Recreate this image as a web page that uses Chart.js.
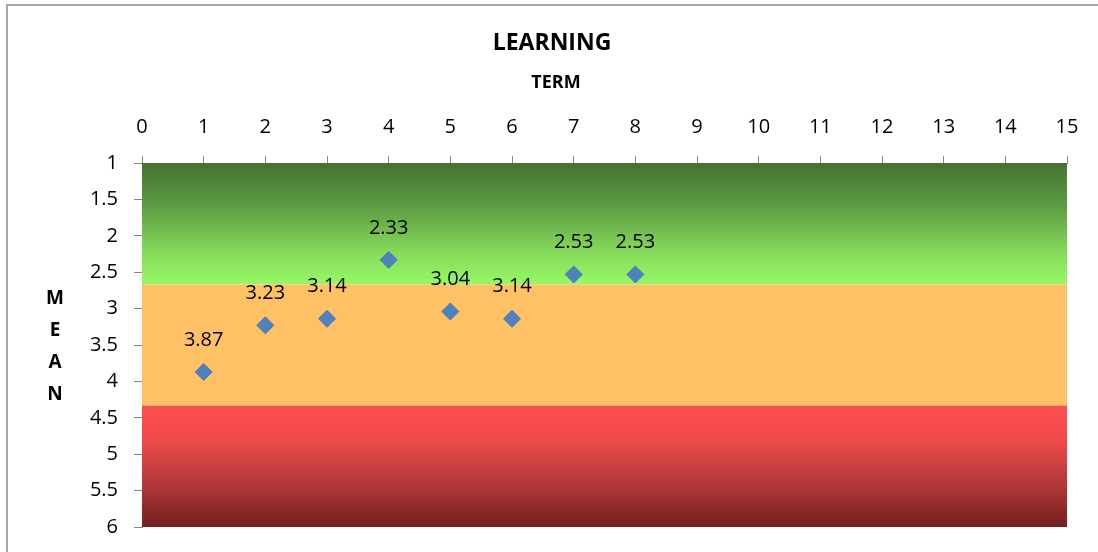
<!DOCTYPE html>
<html>
<head>
<meta charset="utf-8">
<script src="https://cdn.jsdelivr.net/npm/chart.js@4.4.0/dist/chart.umd.min.js"></script>
<style>
  html, body { margin: 0; padding: 0; background: #fff; }
  #wrap { position: relative; width: 1098px; height: 552px; overflow: hidden; }
  #frame { position: absolute; left: 6px; top: 4px; width: 1300px; height: 800px;
           border-top: 2px solid #a6a6a6; border-left: 2px solid #a6a6a6; }
  canvas { position: absolute; left: 0; top: 0; }
</style>
</head>
<body>
<div id="wrap">
  <div id="frame"></div>
  <canvas id="chart" width="1098" height="552"></canvas>
</div>
<script>
// Term number and mean score for each term
const terms = [1, 2, 3, 4, 5, 6, 7, 8];
const means = [3.87, 3.23, 3.14, 2.33, 3.04, 3.14, 2.53, 2.53];

// Axis ranges
const termRange = [0, 15];
const meanRange = [1, 6];

// Rating bands on the mean axis: good / fair / poor
const bandLimits = [1, 2.667, 4.333, 6];

const FONT = "'Open Sans', 'DejaVu Sans', sans-serif";

// Coloured rating bands behind the points
const bandsPlugin = {
  id: 'bands',
  beforeDatasetsDraw(chart) {
    const { ctx, chartArea: a, scales: { y } } = chart;
    const fills = [
      [[0, '#457230'], [0.35, '#5E9B43'], [0.75, '#86DD5B'], [1, '#96F866']],
      [[0, '#FFC066'], [1, '#FFC066']],
      [[0, '#FF4F4F'], [0.3, '#EC4A48'], [0.65, '#B3383A'], [1, '#741F1F']]
    ];
    ctx.save();
    for (let i = 0; i < bandLimits.length - 1; i++) {
      const top = y.getPixelForValue(bandLimits[i]);
      const bottom = y.getPixelForValue(bandLimits[i + 1]);
      const g = ctx.createLinearGradient(0, top, 0, bottom);
      fills[i].forEach(([p, c]) => g.addColorStop(p, c));
      ctx.fillStyle = g;
      ctx.fillRect(a.left, top, a.right - a.left, bottom - top);
    }
    ctx.restore();
  }
};

// Value labels above each point
const valueLabels = {
  id: 'valueLabels',
  afterDatasetsDraw(chart) {
    const { ctx } = chart;
    const meta = chart.getDatasetMeta(0);
    ctx.save();
    ctx.font = '20px ' + FONT;
    ctx.fillStyle = '#000';
    ctx.textAlign = 'center';
    ctx.textBaseline = 'middle';
    meta.data.forEach((pt, i) => {
      ctx.fillText(means[i].toFixed(2), pt.x, pt.y - 32);
    });
    ctx.restore();
  }
};

// Chart title, term-axis title and the stacked mean-axis title
const headings = {
  id: 'headings',
  afterDraw(chart) {
    const { ctx } = chart;
    ctx.save();
    ctx.fillStyle = '#000';
    ctx.textAlign = 'center';
    ctx.textBaseline = 'middle';
    ctx.font = 'bold 23px ' + FONT;
    ctx.fillText('LEARNING', 552, 43);
    ctx.font = 'bold 18px ' + FONT;
    ctx.fillText('TERM', 556, 83);
    ctx.font = 'bold 19px ' + FONT;
    ['M', 'E', 'A', 'N'].forEach((ch, i) => ctx.fillText(ch, 55, 299 + i * 32));
    ctx.restore();
  }
};

new Chart(document.getElementById('chart'), {
  type: 'scatter',
  data: {
    datasets: [{
      data: terms.map((t, i) => ({ x: t, y: means[i] })),
      pointStyle: 'rectRot',
      pointRadius: 8.5,
      pointHoverRadius: 8.5,
      backgroundColor: '#4F81BD',
      borderColor: '#4A7AB5',
      borderWidth: 1
    }]
  },
  options: {
    responsive: false,
    devicePixelRatio: 1,
    animation: false,
    layout: { padding: { left: 10, right: 31, top: 0, bottom: 25 } },
    plugins: { legend: { display: false }, title: { display: false }, tooltip: { enabled: false } },
    scales: {
      x: {
        type: 'linear',
        position: 'top',
        min: termRange[0],
        max: termRange[1],
        ticks: { stepSize: 1, color: '#000', font: { family: FONT, size: 20 }, padding: 17 },
        grid: { drawOnChartArea: false, drawTicks: true, tickLength: 7, color: '#868686' },
        border: { display: true, color: '#868686', width: 1 },
        afterFit(s) { s.height = 163; s.paddingLeft = 0; s.paddingRight = 0; }
      },
      y: {
        type: 'linear',
        reverse: true,
        min: meanRange[0],
        max: meanRange[1],
        ticks: { stepSize: 0.5, color: '#000', font: { family: FONT, size: 20 }, padding: 16,
                 callback: v => String(v) },
        grid: { drawOnChartArea: false, drawTicks: true, tickLength: 8, color: '#868686' },
        border: { display: true, color: '#868686', width: 1 },
        afterFit(s) { s.width = 132; s.paddingTop = 0; s.paddingBottom = 0; }
      }
    }
  },
  plugins: [bandsPlugin, valueLabels, headings]
});
</script>
</body>
</html>
